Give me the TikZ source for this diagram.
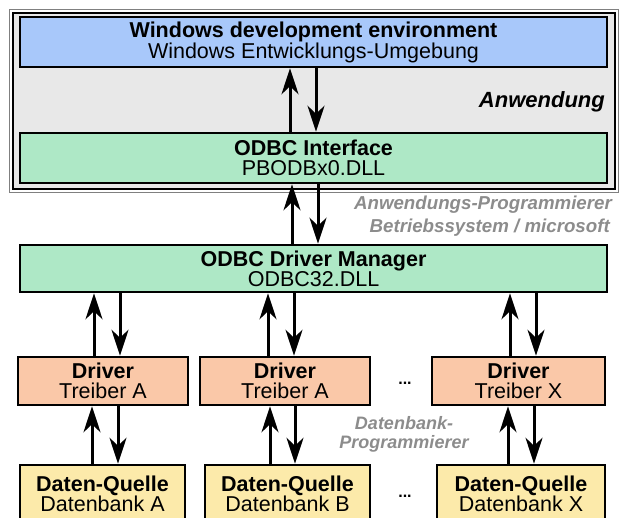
\documentclass[tikz,border=0pt]{standalone}
\usepackage{fontspec}
\setmainfont{Liberation Sans}
\usetikzlibrary{arrows.meta}
\definecolor{bluebox}{RGB}{168,200,250}
\definecolor{greenbox}{RGB}{174,232,198}
\definecolor{orangebox}{RGB}{250,200,168}
\definecolor{yellowbox}{RGB}{252,234,170}
\definecolor{framebg}{RGB}{232,232,232}
\definecolor{graytext}{RGB}{140,140,140}
\begin{document}
\begin{tikzpicture}[x=1pt,y=-1pt,
  box/.style={draw=black, line width=2.5pt, rectangle, align=center, inner sep=0pt,
    font=\fontsize{21.5}{20}\selectfont},
  wide/.style={box, minimum width=587pt, minimum height=50pt},
  small/.style={box, minimum height=48pt},
  arr/.style={line width=3pt, -{Stealth[length=26pt,width=17pt,inset=8pt]}},
  note/.style={text=graytext, font=\fontsize{18.7}{23}\selectfont\bfseries\itshape, inner sep=0pt},
  dots/.style={font=\fontsize{16}{16}\selectfont\bfseries, inner sep=0pt}]
\useasboundingbox (0,0) rectangle (620,517);
\clip (0,0) rectangle (620,517);
% outer application frame
\draw[line width=1pt, draw=gray] (9.5,9.5) rectangle (618,192.5);
\draw[fill=framebg, line width=2pt] (13,13) rectangle (615,189);
\node[font=\fontsize{22}{22}\selectfont\bfseries\itshape, anchor=east, inner sep=0pt] (anw) at (605,102) {Anwendung};

\node[wide, fill=bluebox] (win) at (313.5,42) {\textbf{Windows development environment}\\Windows Entwicklungs-Umgebung};
\node[wide, fill=greenbox] (iface) at (313.5,158) {\textbf{ODBC Interface}\\PBODBx0.DLL};
\node[wide, fill=greenbox, minimum height=47pt] (mgr) at (313.5,268.5) {\textbf{ODBC Driver Manager}\\ODBC32.DLL};

\node[small, fill=orangebox, minimum width=170pt] (dra) at (103,381) {\textbf{Driver}\\Treiber A};
\node[small, fill=orangebox, minimum width=170pt] (drb) at (285,381) {\textbf{Driver}\\Treiber A};
\node[small, fill=orangebox, minimum width=173pt] (drx) at (518.5,381) {\textbf{Driver}\\Treiber X};

\node[box, fill=yellowbox, minimum width=165pt, minimum height=60pt] (dqa) at (102.5,495) {};
\node[box, fill=yellowbox, minimum width=165pt, minimum height=60pt] (dqb) at (287.5,495) {};
\node[box, fill=yellowbox, minimum width=168pt, minimum height=60pt] (dqx) at (521,495) {};
\node[align=center, font=\fontsize{21.5}{20}\selectfont, inner sep=0pt] (ta) at (102.5,494) {\textbf{Daten-Quelle}\\Datenbank A};
\node[align=center, font=\fontsize{21.5}{20}\selectfont, inner sep=0pt] (tb) at (287.5,494) {\textbf{Daten-Quelle}\\Datenbank B};
\node[align=center, font=\fontsize{21.5}{20}\selectfont, inner sep=0pt] (tx) at (521,494) {\textbf{Daten-Quelle}\\Datenbank X};

\node[dots] (d1) at (405,383) {...};
\node[dots] (d2) at (405,496) {...};

\node[note, anchor=east] (ap) at (612,205) {Anwendungs-Programmierer};
\node[note, anchor=east] (bs) at (610,228) {Betriebssystem / microsoft};
\node[note, align=center, font=\fontsize{18}{19}\selectfont\bfseries\itshape] (dp) at (404,434) {Datenbank-\\Programmierer};

% arrows
\draw[arr] ([xshift=-23.5pt]iface.north) -- ([xshift=-23.5pt]win.south);
\draw[arr] ([xshift=2.5pt]win.south) -- ([xshift=2.5pt]iface.north);
\draw[arr] ([xshift=-21.5pt]mgr.north) -- ([xshift=-21.5pt]iface.south);
\draw[arr] ([xshift=4.5pt]iface.south) -- ([xshift=4.5pt]mgr.north);

\draw[arr] ([xshift=-9pt]dra.north) -- ([xshift=-9pt]dra.north |- mgr.south);
\draw[arr] ([xshift=17pt]dra.north |- mgr.south) -- ([xshift=17pt]dra.north);
\draw[arr] ([xshift=-17pt]drb.north) -- ([xshift=-17pt]drb.north |- mgr.south);
\draw[arr] ([xshift=9pt]drb.north |- mgr.south) -- ([xshift=9pt]drb.north);
\draw[arr] ([xshift=-8.5pt]drx.north) -- ([xshift=-8.5pt]drx.north |- mgr.south);
\draw[arr] ([xshift=17.5pt]drx.north |- mgr.south) -- ([xshift=17.5pt]drx.north);

\draw[arr] ([xshift=-11pt]dra.south |- dqa.north) -- ([xshift=-11pt]dra.south);
\draw[arr] ([xshift=15pt]dra.south) -- ([xshift=15pt]dra.south |- dqa.north);
\draw[arr] ([xshift=-15pt]drb.south |- dqb.north) -- ([xshift=-15pt]drb.south);
\draw[arr] ([xshift=10pt]drb.south) -- ([xshift=10pt]drb.south |- dqb.north);
\draw[arr] ([xshift=-10.5pt]drx.south |- dqx.north) -- ([xshift=-10.5pt]drx.south);
\draw[arr] ([xshift=15.5pt]drx.south) -- ([xshift=15.5pt]drx.south |- dqx.north);
\end{tikzpicture}
\end{document}
